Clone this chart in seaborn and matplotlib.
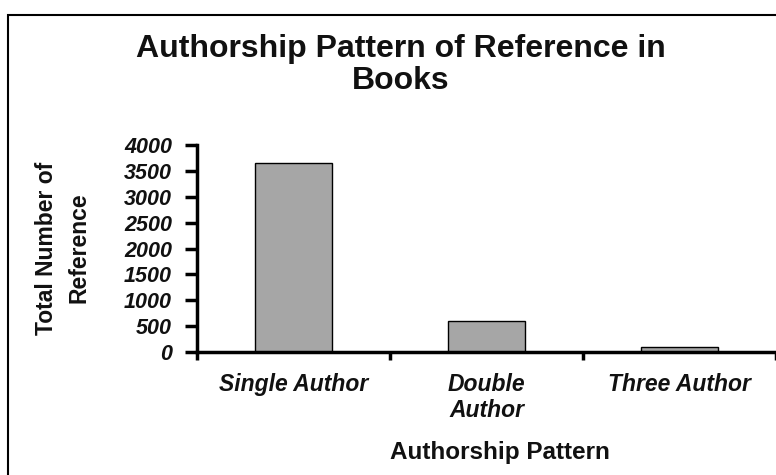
import matplotlib
matplotlib.use('Agg')
import matplotlib.pyplot as plt
import seaborn as sns
from matplotlib.patches import Rectangle

# data
categories = ['Single Author', 'Double\nAuthor', 'Three Author']
counts = [3650, 590, 95]
y_ticks = [0, 500, 1000, 1500, 2000, 2500, 3000, 3500, 4000]

sns.set_style('white')
plt.rcParams['font.family'] = ['Liberation Sans', 'DejaVu Sans']
plt.rcParams['text.color'] = '#111111'
plt.rcParams['xtick.color'] = '#111111'
plt.rcParams['ytick.color'] = '#111111'

fig = plt.figure(figsize=(7.76, 4.75), dpi=100)
ax = fig.add_axes([197/776, 1 - 352/475, (776 - 197)/776, (352 - 145)/475])

sns.barplot(x=categories, y=counts, color='#a6a6a6', saturation=1,
            edgecolor='black', linewidth=1, width=0.4, ax=ax)

ax.set_xlim(-0.5, 2.5)
ax.set_ylim(0, 4000)
ax.set_yticks(y_ticks)
ax.set_yticklabels([str(v) for v in y_ticks], fontsize=15.5,
                   fontweight='bold', fontstyle='italic')
ax.tick_params(axis='y', left=True, direction='out', length=9, width=2.5,
               pad=9, color='black')

# boundary ticks between categories, labels sit on minor ticks at the centres
ax.set_xticks([-0.5, 0.5, 1.5, 2.5])
ax.set_xticklabels([])
ax.tick_params(axis='x', which='major', bottom=True, direction='out',
               length=6, width=2.5, color='black')
ax.set_xticks([0, 1, 2], minor=True)
ax.set_xticklabels(categories, minor=True, fontsize=16.5, fontweight='bold',
                   fontstyle='italic', linespacing=1.15)
ax.tick_params(axis='x', which='minor', bottom=True, length=0, pad=15)

ax.set_xlabel('')
ax.set_ylabel('')
for s in ['top', 'right']:
    ax.spines[s].set_visible(False)
for s in ['left', 'bottom']:
    ax.spines[s].set_linewidth(2.5)
    ax.spines[s].set_color('black')

fig.text(401/776, 1 - 65/475, 'Authorship Pattern of Reference in\nBooks',
         ha='center', va='center', fontsize=23, fontweight='bold', linespacing=1.08)
fig.text(500/776, 1 - 452/475, 'Authorship Pattern', ha='center', va='center',
         fontsize=17.5, fontweight='bold')
fig.text(63/776, 1 - 248/475, 'Total Number of\nReference', ha='center', va='center',
         rotation=90, fontsize=16.5, fontweight='bold', linespacing=1.55)

# outer chart frame, cut off on the right and bottom like the original
fig.patches.append(Rectangle((8/776, -0.1), 1.2, (475 - 15)/475 + 0.1,
                             transform=fig.transFigure, fill=False, lw=1.5, ec='black'))

fig.savefig('out.png', dpi=100)
